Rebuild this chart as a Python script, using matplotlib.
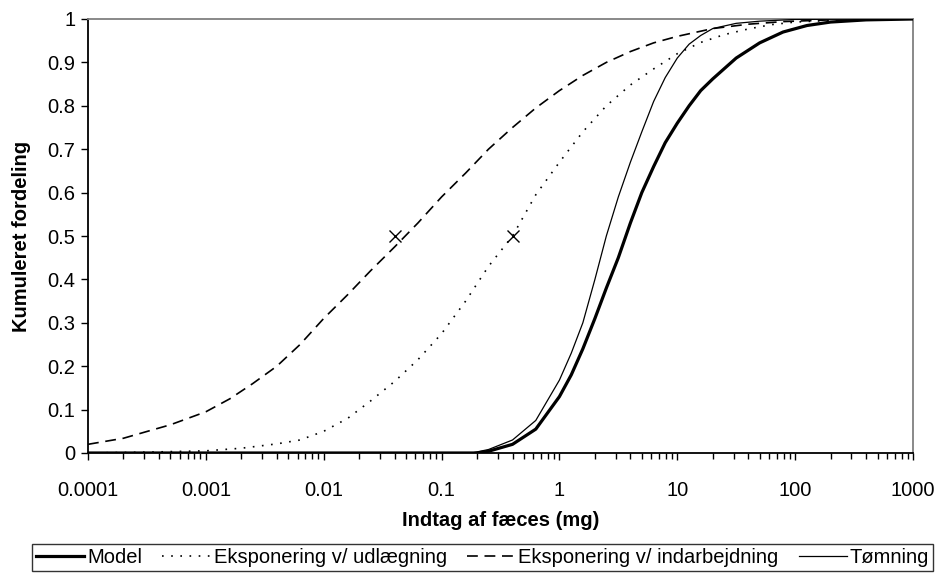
import matplotlib
matplotlib.use('Agg')
import matplotlib.pyplot as plt
from matplotlib.ticker import FixedLocator, FuncFormatter, LogLocator, NullFormatter

plt.rcParams['font.family'] = ['Liberation Sans', 'DejaVu Sans']

# Model (thick solid)
model_x = [1e-4, 0.2, 0.25, 0.4, 0.63, 1.0, 1.26, 1.58, 2.0, 2.5, 3.16, 4.0, 5.0, 6.3, 7.9,
           10, 12.6, 15.8, 20, 31.6, 50, 79, 126, 200, 400, 1000]
model_y = [0.0, 0.0, 0.004, 0.02, 0.055, 0.13, 0.18, 0.24, 0.31, 0.38, 0.45, 0.53, 0.6, 0.66, 0.715,
           0.76, 0.8, 0.835, 0.862, 0.91, 0.945, 0.97, 0.985, 0.993, 0.998, 1.0]

# Eksponering v/ udlaegning (dotted)
udl_x = [1e-4, 3.2e-4, 1e-3, 0.002, 0.004, 0.0063, 0.01, 0.016, 0.025, 0.04, 0.063, 0.1, 0.16,
         0.25, 0.4, 0.63, 1.0, 1.58, 2.5, 4.0, 6.3, 10, 15.8, 25, 40, 63, 100, 250, 1000]
udl_y = [0.0, 0.002, 0.005, 0.011, 0.021, 0.03, 0.05, 0.08, 0.12, 0.165, 0.215, 0.275, 0.35,
         0.43, 0.5, 0.595, 0.67, 0.74, 0.8, 0.848, 0.885, 0.92, 0.946, 0.964, 0.977, 0.987, 0.993, 0.998, 1.0]

# Eksponering v/ indarbejdning (dashed)
ind_x = [1e-4, 2e-4, 3.2e-4, 5e-4, 1e-3, 0.0016, 0.0025, 0.004, 0.0063, 0.01, 0.016, 0.025, 0.04,
         0.063, 0.1, 0.16, 0.25, 0.4, 0.63, 1.0, 1.58, 2.5, 4.0, 6.3, 10, 20, 40, 79, 200, 1000]
ind_y = [0.02, 0.034, 0.05, 0.065, 0.095, 0.125, 0.16, 0.2, 0.25, 0.31, 0.365, 0.42, 0.475,
         0.53, 0.59, 0.645, 0.7, 0.75, 0.795, 0.835, 0.87, 0.9, 0.925, 0.945, 0.96, 0.978, 0.988, 0.994, 0.998, 1.0]

# Tomning (thin solid)
tom_x = [1e-4, 0.18, 0.25, 0.4, 0.63, 1.0, 1.26, 1.58, 2.0, 2.5, 3.16, 4.0, 5.0, 6.3, 7.9,
         10, 12.6, 15.8, 20, 31.6, 50, 100, 1000]
tom_y = [0.0, 0.0, 0.008, 0.03, 0.075, 0.168, 0.23, 0.3, 0.4, 0.5, 0.59, 0.67, 0.74, 0.81, 0.865,
         0.91, 0.942, 0.962, 0.978, 0.99, 0.995, 0.999, 1.0]

# median markers
mark_x = [0.04, 0.4]
mark_y = [0.5, 0.5]

x_ticks = [1e-4, 1e-3, 1e-2, 1e-1, 1, 10, 100, 1000]
y_ticks = [0, 0.1, 0.2, 0.3, 0.4, 0.5, 0.6, 0.7, 0.8, 0.9, 1]

fs = 14.5

fig = plt.figure(figsize=(9.44, 5.76), dpi=100)
ax = fig.add_axes([88/944, 1-453/576, (913-88)/944, (453-19)/576])

ax.plot(model_x, model_y, color='black', lw=2.3, label='Model', zorder=4)
ax.plot(udl_x, udl_y, color='black', lw=1.2, linestyle=(0, (1, 4.5)), label='Eksponering v/ udlægning')
ax.plot(ind_x, ind_y, color='black', lw=1.2, linestyle=(0, (6.5, 4)), label='Eksponering v/ indarbejdning')
ax.plot(tom_x, tom_y, color='black', lw=0.9, label='Tømning', zorder=3)
ax.plot(mark_x, mark_y, linestyle='none', marker='x', color='black', ms=8, mew=1.0)

ax.set_xscale('log')
ax.set_xlim(1e-4, 1000)
ax.set_ylim(0, 1)
ax.xaxis.set_major_locator(FixedLocator(x_ticks))
ax.xaxis.set_major_formatter(FuncFormatter(lambda v, p: '%g' % v))
ax.xaxis.set_minor_locator(LogLocator(base=10, subs=range(2, 10), numticks=20))
ax.xaxis.set_minor_formatter(NullFormatter())
ax.yaxis.set_major_locator(FixedLocator(y_ticks))
ax.yaxis.set_major_formatter(FuncFormatter(lambda v, p: '%g' % v))

ax.tick_params(axis='both', which='major', direction='out', length=5, width=1, labelsize=fs, colors='black')
ax.tick_params(axis='x', which='minor', direction='out', length=4, width=1)
ax.tick_params(axis='x', pad=15)
ax.tick_params(axis='y', pad=4)

for s in ['left', 'bottom']:
    ax.spines[s].set_color('black')
    ax.spines[s].set_linewidth(1.3)
for s in ['top', 'right']:
    ax.spines[s].set_color('#808080')
    ax.spines[s].set_linewidth(1.3)

ax.set_xlabel('Indtag af fæces (mg)', fontsize=fs, fontweight='bold', labelpad=8)
ax.set_ylabel('Kumuleret fordeling', fontsize=fs, fontweight='bold', labelpad=12)

leg = fig.legend(loc='lower center', bbox_to_anchor=(482.5/944, 0.008), ncol=4, fontsize=fs,
                 frameon=True, fancybox=False, edgecolor='black', handlelength=2.4,
                 handletextpad=0.15, columnspacing=1.0, borderpad=0.2, borderaxespad=0)
leg.get_frame().set_linewidth(1.0)

fig.savefig('out.png', dpi=100)
